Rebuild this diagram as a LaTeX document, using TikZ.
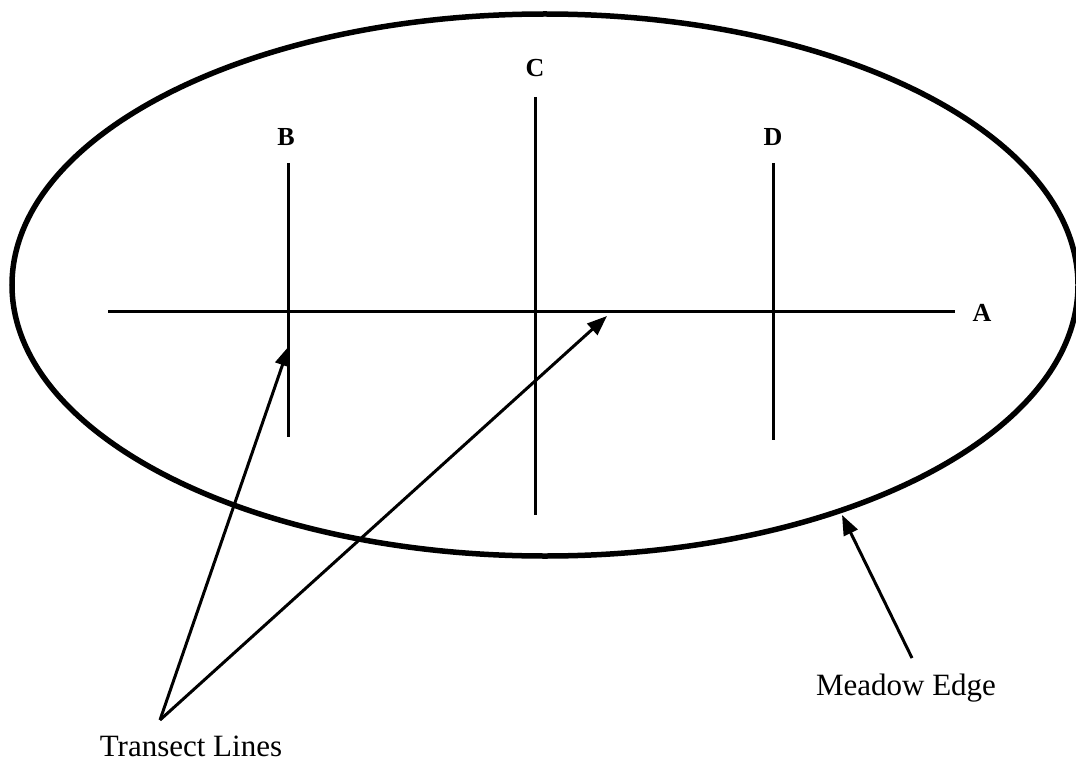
\documentclass[tikz,border=0pt]{standalone}
\usepackage{fontspec}
\setmainfont{Liberation Serif}
\usetikzlibrary{arrows.meta}
\begin{document}
\begin{tikzpicture}[x=1pt,y=-1pt,
  tline/.style={line width=3pt},
  edgeline/.style={line width=5.5pt},
  ptr/.style={line width=3pt,-{Triangle[length=20pt,width=15pt]}},
  lbl/.style={font=\fontsize{26}{30}\selectfont\bfseries,inner sep=0pt},
  captext/.style={font=\fontsize{31}{36}\selectfont,inner sep=0pt}]
\useasboundingbox (0,0) rectangle (1076,762);
\begin{scope}
\clip (0,0) rectangle (1076,762);
\draw[edgeline] (545,285) ellipse[x radius=533,y radius=271];
\end{scope}
% transect lines
\coordinate (aL) at (108,311);
\coordinate (aR) at (955,311);
\coordinate (bT) at (288,163);
\coordinate (bB) at (288,437);
\coordinate (cT) at (535,97);
\coordinate (cB) at (535,515);
\coordinate (dT) at (773,163);
\coordinate (dB) at (773,440);
\draw[tline] (aL) -- (aR);
\draw[tline] (bT) -- (bB);
\draw[tline] (cT) -- (cB);
\draw[tline] (dT) -- (dB);
\node[lbl] (A) at (982,313) {A};
\node[lbl] (B) at (286,137) {B};
\node[lbl] (C) at (535,68) {C};
\node[lbl] (D) at (773,137) {D};
% pointers
\coordinate (tip) at (160,720);
\coordinate (t1) at (289,346);
\coordinate (t2) at (607,316);
\draw[ptr] (tip) -- (t1);
\draw[ptr] (tip) -- (t2);
\node[captext] (tl) at (191,746) {Transect Lines};
\coordinate (mfoot) at (912,658);
\coordinate (medge) at (842,515);
\draw[ptr] (mfoot) -- (medge);
\node[captext] (me) at (906,688) {Meadow Edge};
\end{tikzpicture}
\end{document}
